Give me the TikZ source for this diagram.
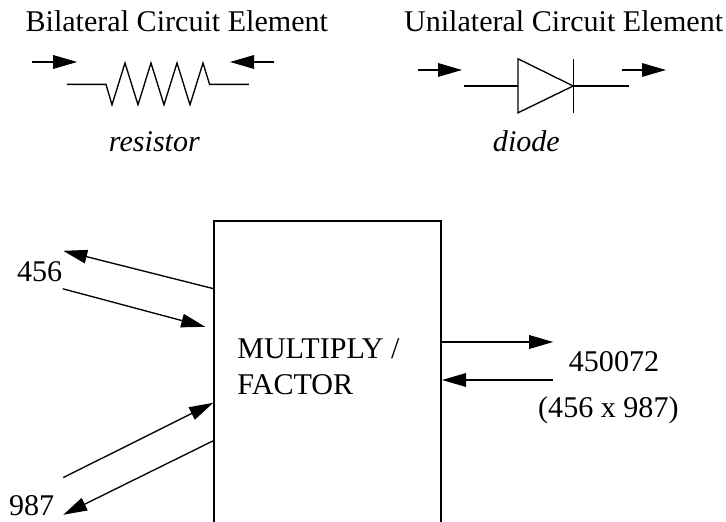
\documentclass[tikz,border=0pt]{standalone}
\usepackage{fontspec}
\setmainfont{Liberation Serif}
\usetikzlibrary{arrows.meta}
\tikzset{
  wire/.style={line width=0.95pt, line join=miter},
  flow/.style={line width=0.95pt, -{Triangle[length=0.6cm, width=0.34cm]}},
  label/.style={anchor=base, inner sep=0pt, font=\fontsize{21.4}{26}\selectfont}
}

\begin{document}
\begin{tikzpicture}
  \useasboundingbox (0, 0) rectangle (18.15, 13.05);

  % Bilateral element
  \node[label] (bilateral) at (4.42, 12.25) {Bilateral Circuit Element};
  \draw[wire] plot coordinates {
    (1.67, 10.94) (2.65, 10.94) (2.8, 10.43) (3.125, 11.475) (3.45, 10.43) (3.775, 11.475)
    (4.1, 10.43) (4.425, 11.475) (4.75, 10.43) (5.075, 11.475) (5.24, 10.94) (6.22, 10.94)
  };
  \node[label, font=\fontsize{21.4}{26}\selectfont\itshape] (resistor) at (3.86, 9.25) {resistor};
  \coordinate (resAin) at (0.8, 11.5);
  \coordinate (resAout) at (1.93, 11.5);
  \coordinate (resBin) at (6.85, 11.5);
  \coordinate (resBout) at (5.75, 11.5);
  \draw[flow] (resAin) -- (resAout);
  \draw[flow] (resBin) -- (resBout);

  % Unilateral element
  \node[label] (unilateral) at (14.09, 12.25) {Unilateral Circuit Element};
  \draw[wire] (11.6, 10.9) -- (12.95, 10.9);
  \draw[wire] (12.95, 11.58) -- (12.95, 10.23) -- (14.33, 10.9) -- cycle;
  \draw[wire] (14.33, 11.58) -- (14.33, 10.23);
  \draw[wire] (14.33, 10.9) -- (15.73, 10.9);
  \node[label, font=\fontsize{21.4}{26}\selectfont\itshape] (diode) at (13.16, 9.25) {diode};
  \coordinate (dioAin) at (10.45, 11.3);
  \coordinate (dioAout) at (11.55, 11.3);
  \coordinate (dioBin) at (15.55, 11.3);
  \coordinate (dioBout) at (16.65, 11.3);
  \draw[flow] (dioAin) -- (dioAout);
  \draw[flow] (dioBin) -- (dioBout);

  % Multiplier box, runs off the bottom
  \draw[line width=1.6pt] (5.35, 0) -- (5.35, 7.525) -- (11.025, 7.525) -- (11.025, 0);
  \node[label, anchor=base west, align=left, font=\fontsize{21.4}{26.3}\selectfont] (multiply) at (5.925, 3.175) {MULTIPLY /\\FACTOR};

  % Left side
  \node[label] (first) at (0.99, 6.01) {456};
  \node[label] (second) at (0.79, 0.15) {987};
  \coordinate (firstOutA) at (5.35, 5.83);
  \coordinate (firstOutB) at (1.58, 6.78);
  \coordinate (firstInA) at (1.57, 5.83);
  \coordinate (firstInB) at (5.13, 4.88);
  \coordinate (secondInA) at (1.58, 1.11);
  \coordinate (secondInB) at (5.33, 2.98);
  \coordinate (secondOutA) at (5.33, 2.03);
  \coordinate (secondOutB) at (1.58, 0.18);
  \draw[flow] (firstOutA) -- (firstOutB);
  \draw[flow] (firstInA) -- (firstInB);
  \draw[flow] (secondInA) -- (secondInB);
  \draw[flow] (secondOutA) -- (secondOutB);

  % Right side
  \node[label] (product) at (15.35, 3.76) {450072};
  \node[label] (factors) at (15.21, 2.6) {(456 x 987)};
  \coordinate (prodOutA) at (11.025, 4.5);
  \coordinate (prodOutB) at (13.83, 4.5);
  \coordinate (prodInA) at (13.83, 3.55);
  \coordinate (prodInB) at (11.05, 3.55);
  \draw[flow] (prodOutA) -- (prodOutB);
  \draw[flow] (prodInA) -- (prodInB);
\end{tikzpicture}
\end{document}
